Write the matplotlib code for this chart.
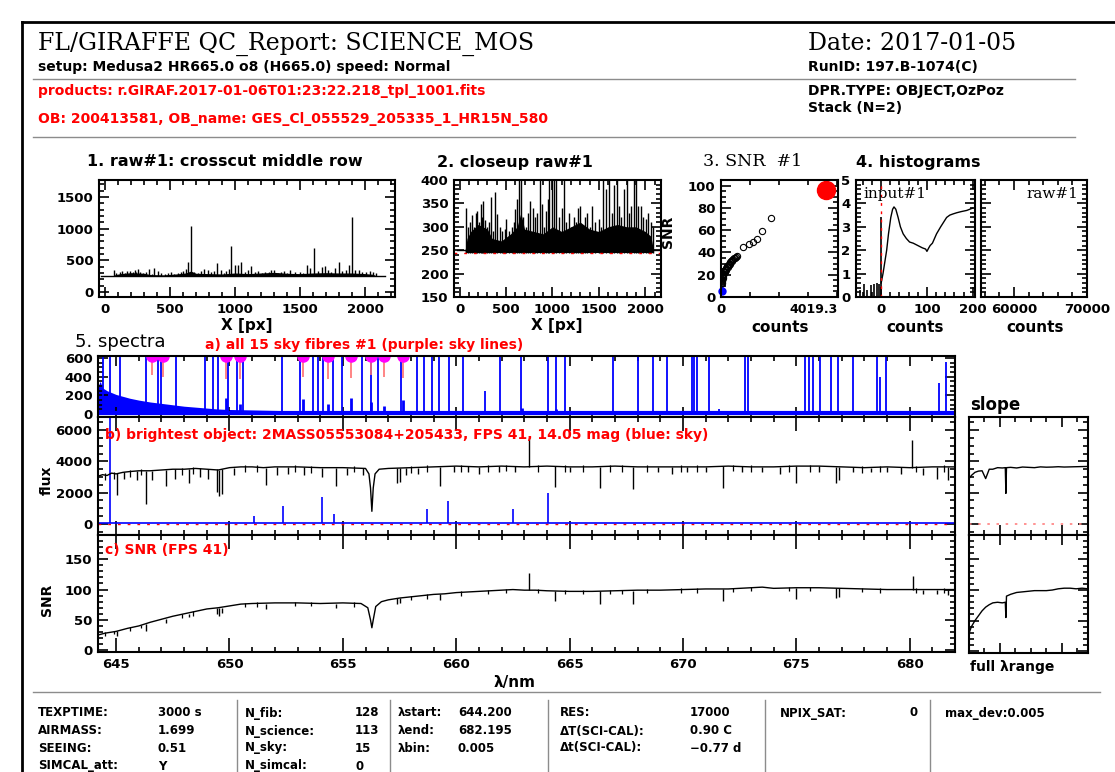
import matplotlib
matplotlib.use("Agg")
import matplotlib.pyplot as plt
from matplotlib.lines import Line2D
from matplotlib.ticker import MultipleLocator, FixedLocator, NullFormatter

W, H = 1115, 772

# ---- raw crosscut (panels 1 and 2) ----
raw_base_x = [-30, 2150]
raw_base_y = [250, 250]
raw_env_x = [60, 80, 120, 200, 300, 350, 450, 550, 620, 660, 700, 800, 900, 1000,
             1100, 1200, 1300, 1400, 1500, 1600, 1700, 1800, 1900, 2000, 2060, 2090]
raw_env_y = [250, 275, 290, 305, 295, 275, 270, 285, 300, 330, 295, 290, 285, 300,
             290, 300, 310, 295, 290, 300, 305, 300, 300, 290, 280, 250]
raw_peak_x = [70, 88, 112, 132, 152, 172, 192, 212, 228, 242, 256, 272, 292, 318, 341,
              365, 380, 405, 432, 460, 488, 505, 532, 560, 585, 602, 622, 640, 659, 685,
              712, 740, 763, 790, 812, 838, 864, 889, 912, 932, 952, 967, 1000, 1020,
              1044, 1075, 1100, 1122, 1150, 1180, 1205, 1229, 1258, 1280, 1301, 1330,
              1352, 1373, 1400, 1426, 1460, 1498, 1522, 1550, 1575, 1610, 1640, 1665,
              1692, 1715, 1740, 1770, 1802, 1825, 1850, 1875, 1897, 1925, 1953, 1980,
              2005, 2035, 2060, 2085]
raw_peak_y = [340, 300, 310, 325, 300, 330, 334, 310, 348, 320, 355, 315, 300, 310, 363,
              290, 375, 327, 300, 290, 295, 316, 290, 300, 310, 338, 360, 480, 1040, 320,
              300, 330, 356, 340, 320, 330, 450, 348, 300, 334, 360, 730, 430, 420,
              480, 320, 340, 410, 310, 330, 300, 320, 310, 340, 345, 300,
              320, 330, 300, 345, 310, 316, 300, 420, 380, 700, 330, 390,
              410, 345, 320, 380, 470, 330, 345, 420, 1180, 345, 345, 320,
              316, 330, 310, 300]
raw_level = 245

# ---- SNR #1 (panel 3) ----
snr_counts = [15, 20, 25, 30, 35, 40, 45, 55, 65, 75, 85, 95, 110, 125, 140, 155, 170,
              185, 200, 220, 240, 260, 280, 300, 320, 345, 370, 395, 420, 450, 480, 510,
              540, 767, 973, 1111, 1225, 1397, 1718]
snr_values = [12, 14, 16, 13, 18, 15, 19, 17, 20, 21, 19, 22, 23, 22, 24, 25, 26,
              24, 27, 28, 27, 29, 30, 31, 30, 32, 33, 32, 34, 35, 35, 36,
              37, 45, 48, 49, 52, 59, 71]
snr_sky = [(24, 5)]
snr_bright = [(3607, 96)]

# ---- histograms (panel 4) ----
hist_x = [0, 4, 8, 12, 16, 21, 25, 28, 32, 37, 42, 48, 55, 62, 70, 80, 90, 97, 100,
          104, 107, 112, 121, 130, 143, 150, 157, 165, 175, 187, 200]
hist_y = [0.6, 1.0, 1.5, 2.0, 2.7, 3.4, 3.75, 3.85, 3.75, 3.4, 3.0, 2.7, 2.5, 2.35, 2.3,
          2.2, 2.1, 2.05, 1.95, 2.1, 2.2, 2.3, 2.7, 3.0, 3.4, 3.5, 3.55, 3.6, 3.65, 3.7, 3.8]
hist_bar_x = [-47, -38, -30, -22, -15, -10, -5, 0]
hist_bar_y = [0.3, 0.55, 0.3, 0.5, 0.55, 0.6, 0.55, 3.4]

# ---- 5a: sky fibres ----
sky_env_lam = [644.2, 644.3, 644.4, 644.6, 644.8, 645.0, 645.3, 645.6, 646.0, 646.5,
               647.0, 647.5, 648.0, 648.5, 649.0, 649.5, 650.0, 651.0, 652.0, 653.0,
               654.0, 655.0, 656.0, 658.0, 660.0, 662.0, 665.0, 670.0, 675.0, 680.0, 682.0]
sky_env_val = [300, 350, 280, 250, 230, 210, 190, 170, 150, 130,
               115, 100, 85, 75, 65, 55, 50, 45, 40, 35,
               32, 30, 28, 25, 25, 22, 20, 20, 18, 18, 18]
sky_spike_lam = [644.42, 644.74, 645.18, 646.31, 646.86, 646.97, 647.65, 648.91, 649.27,
                 649.48, 649.94, 650.33, 650.61, 652.30, 653.09, 653.69, 653.92, 654.11,
                 654.58, 654.98, 655.84, 656.24, 656.55, 657.58, 658.29, 658.57, 658.91,
                 659.26, 659.70, 660.30, 661.28, 661.91, 662.85, 664.03, 664.40, 664.81,
                 666.91, 668.01, 668.69, 669.30, 670.39, 670.50, 670.63, 671.14, 671.60,
                 672.73, 672.89, 675.40, 675.56, 675.72, 676.04, 676.53, 676.86, 677.50,
                 678.56, 678.71, 678.96, 681.30, 681.59]
sky_spike_val = [700, 700, 700, 700, 700, 700, 700, 700, 700,
                 700, 700, 700, 700, 700, 700, 700, 700, 700,
                 700, 700, 700, 700, 700, 700, 700, 700, 700,
                 700, 700, 700, 250, 700, 700, 700, 700, 700,
                 700, 700, 700, 700, 700, 700, 700, 700, 60,
                 700, 700, 700, 700, 700, 700, 700, 700, 700,
                 700, 400, 700, 330, 560]
sky_bump_lam = [649.84, 650.46, 653.26, 654.35, 655.34, 656.24, 656.83, 657.67, 662.9, 664.4]
sky_bump_val = [170, 110, 160, 110, 170, 130, 90, 150, 70, 50]
skyline_lam = [646.60, 647.07, 649.84, 650.46, 653.26, 654.35, 655.34, 656.24, 656.83, 657.67]
skyline_low = [420, 400, 380, 380, 400, 380, 390, 420, 400, 390]

# ---- 5b: brightest object ----
obj_lam = [644.2, 644.4, 644.6, 644.8, 645.0, 645.3, 645.6, 646.0, 646.5, 647.0, 647.5,
           648.0, 648.5, 649.0, 649.5, 650.0, 650.5, 651.0, 651.5, 652.0, 653.0, 654.0,
           655.0, 656.0, 656.15, 656.22, 656.28, 656.34, 656.42, 656.6, 657.0, 658.0,
           659.0, 660.0, 661.0, 662.0, 663.0, 664.0, 665.0, 666.0, 667.0, 668.0, 669.0,
           670.0, 671.0, 672.0, 673.0, 674.0, 675.0, 676.0, 677.0, 678.0, 679.0, 680.0,
           681.0, 682.0]
obj_flux = [3050, 3150, 3100, 3250, 3200, 3300, 3350, 3400, 3400, 3450, 3500,
            3500, 3550, 3500, 3450, 3600, 3650, 3650, 3600, 3650, 3650, 3600,
            3600, 3550, 3200, 2300, 800, 2300, 3200, 3500, 3550, 3600,
            3650, 3700, 3650, 3700, 3650, 3700, 3650, 3650, 3700, 3650, 3650,
            3650, 3650, 3700, 3650, 3650, 3700, 3700, 3650, 3600, 3650, 3600,
            3650, 3650]
dip_lam = [645.05, 645.35, 645.9, 646.31, 646.6, 647.2, 647.6, 648.2, 648.7, 649.05,
           649.44, 649.55, 649.68, 650.2, 651.6, 652.1, 652.6, 653.3, 654.1, 654.7,
           655.2, 655.9, 657.4, 657.5, 657.8, 658.3, 659.3, 659.9, 660.5, 661.0,
           661.9, 662.6, 664.35, 665.0, 666.34, 667.8, 668.9, 669.5, 670.2, 671.0,
           671.76, 672.6, 673.5, 674.3, 675.0, 676.0, 676.77, 676.9, 677.5, 678.3,
           679.0, 679.6, 680.6, 681.2, 681.7]
dip_top = [3250, 3300, 3400, 3400, 3400, 3450, 3500, 3500, 3550, 3500,
           3500, 3450, 3500, 3600, 3600, 3650, 3650, 3650, 3600, 3600,
           3600, 3550, 3550, 3550, 3600, 3600, 3650, 3700, 3700, 3650,
           3700, 3700, 3700, 3650, 3650, 3650, 3650, 3650, 3650, 3650,
           3700, 3700, 3650, 3650, 3700, 3700, 3650, 3650, 3650, 3600,
           3650, 3650, 3600, 3650, 3650]
dip_low = [1840, 2900, 2800, 1300, 2800, 2400, 2900, 2630, 3000, 2900,
           2060, 1750, 1900, 3100, 2500, 3100, 3200, 3100, 3000, 2400,
           3100, 3100, 2600, 2700, 3100, 3200, 2400, 3300, 3300, 3200,
           3300, 3300, 2390, 3300, 2300, 2200, 3300, 3200, 3300, 3300,
           2300, 3300, 3300, 3200, 2600, 3300, 2600, 2800, 3300, 3300,
           3300, 3200, 3100, 2900, 2800]
weak_lam = [644.5, 644.9, 645.6, 646.1, 647.9, 648.4, 650.7, 651.2, 652.9, 653.6, 655.5,
            658.0, 658.7, 660.2, 661.4, 662.2, 663.6, 664.8, 665.6, 666.8, 667.3, 668.4,
            669.9, 670.6, 672.2, 673.0, 674.7, 675.6, 677.9, 678.7, 680.3, 681.5]
weak_top = [3250, 3300, 3450, 3500, 3600, 3650, 3750, 3750, 3750, 3700, 3700,
            3700, 3750, 3800, 3750, 3800, 3750, 3800, 3750, 3750, 3800, 3750,
            3750, 3750, 3800, 3750, 3750, 3800, 3700, 3700, 3700, 3750]
weak_low = [2800, 2900, 3000, 3100, 3150, 3200, 3300, 3350, 3300, 3250, 3300,
            3250, 3350, 3350, 3300, 3400, 3300, 3350, 3350, 3300, 3350, 3300,
            3350, 3350, 3400, 3300, 3350, 3350, 3250, 3300, 3300, 3350]
em_lam = [663.2, 680.1]
em_base = [3650, 3600]
em_peak = [5500, 5400]
skyb_lam = [644.74, 651.07, 652.34, 654.06, 654.63, 658.71, 659.62, 662.49, 664.03]
skyb_peak = [7000, 480, 1140, 1740, 640, 920, 1470, 950, 1960]
skyb_level = 40

# ---- 5c: SNR ----
snr_lam = [644.2, 644.5, 645.0, 645.5, 646.0, 646.5, 647.0, 647.5, 648.0, 648.5, 649.0,
           649.5, 650.0, 650.5, 651.0, 652.0, 653.0, 654.0, 655.0, 655.8, 656.1, 656.22,
           656.28, 656.34, 656.45, 656.7, 657.0, 657.5, 658.0, 658.5, 659.0, 659.5,
           660.0, 660.5, 661.0, 661.5, 662.0, 662.5, 663.0, 663.5, 664.0, 665.0, 666.0,
           667.0, 668.0, 669.0, 670.0, 671.0, 672.0, 673.0, 673.5, 674.0, 675.0, 676.0,
           677.0, 678.0, 679.0, 680.0, 681.0, 682.0]
snr_spec = [25, 28, 31, 36, 40, 46, 51, 56, 60, 64, 68,
            70, 73, 76, 77, 78, 78, 77, 78, 77, 70, 50,
            37, 50, 72, 80, 83, 86, 88, 90, 92, 93,
            95, 96, 97, 98, 99, 100, 99, 99, 98, 97, 97,
            98, 99, 99, 100, 101, 101, 103, 104, 102, 103, 103,
            102, 101, 100, 100, 100, 100]
snr_dip_lam = [645.05, 646.31, 647.2, 648.2, 649.44, 649.55, 649.68, 651.6, 654.7, 657.4,
               657.5, 659.3, 664.35, 666.34, 667.8, 671.76, 675.0, 676.77, 676.9, 680.6,
               681.2, 681.7]
snr_dip_top = [31, 43, 51, 60, 70, 70, 70, 77, 77, 86, 86, 92, 98, 97, 98, 101, 103, 102,
               102, 100, 100, 100]
snr_dip_low = [24, 32, 45, 54, 60, 57, 61, 68, 69, 76, 78, 82, 81, 76, 76, 81, 85, 86,
               88, 93, 92, 91]
snr_weak_top = [30, 32, 38, 42, 60, 64, 78, 79, 80, 80, 79, 90, 92, 97, 99, 101,
                101, 99, 99, 100, 100, 101, 102, 102, 103, 105, 104, 105, 103, 102, 102, 102]
snr_weak_low = [24, 26, 32, 36, 53, 57, 71, 72, 73, 73, 72, 83, 85, 90, 92, 94,
                94, 92, 92, 93, 93, 94, 95, 95, 96, 98, 97, 98, 96, 95, 95, 95]
snr_em_lam = [663.2, 680.14]
snr_em_base = [99, 100]
snr_em_peak = [128, 122]

# ---- slope panels ----
slope_x = [0.0, 0.02, 0.05, 0.08, 0.11, 0.14, 0.17, 0.2, 0.24, 0.28, 0.305, 0.31, 0.315,
           0.35, 0.4, 0.45, 0.5, 0.55, 0.6, 0.65, 0.7, 0.75, 0.8, 0.85, 0.9, 0.95, 1.0]
slope_flux = [2900, 3100, 3300, 3380, 3400, 2900, 3500, 3500, 3600, 3580, 3600, 1950, 3600,
              3620, 3580, 3640, 3620, 3600, 3650, 3630, 3640, 3660, 3640, 3650, 3660, 3670, 3680]
slope_snr = [29, 40, 50, 58, 66, 72, 76, 79, 80, 79, 80, 55, 90,
             93, 96, 97, 98, 99, 99, 99, 100, 102, 103, 103, 102, 103, 102]

# ---- footer table ----
table_cols = [
    (38, 158, ["TEXPTIME:", "AIRMASS:", "SEEING:", "SIMCAL_att:"], ["3000 s", "1.699", "0.51", "Y"]),
    (245, 355, ["N_fib:", "N_science:", "N_sky:", "N_simcal:"], ["128", "113", "15", "0"]),
    (398, 458, ["λstart:", "λend:", "λbin:"], ["644.200", "682.195", "0.005"]),
    (560, 690, ["RES:", "ΔT(SCI-CAL):", "Δt(SCI-CAL):"], ["17000", "0.90 C", "−0.77 d"]),
    (780, 910, ["NPIX_SAT:"], ["0"]),
    (945, 945, ["max_dev:0.005"], [""]),
]
table_rows_y = [713, 731, 748, 766]
table_seps = [237, 390, 548, 765, 930]

plt.rcParams['font.family'] = ['DejaVu Sans']
plt.rcParams['font.weight'] = 'bold'
plt.rcParams['font.size'] = 9.5

fig = plt.figure(figsize=(W / 100, H / 100), dpi=100)
fig.patch.set_facecolor('white')


def px_axes(x0, y0, x1, y1):
    return fig.add_axes([x0 / W, 1 - y1 / H, (x1 - x0) / W, (y1 - y0) / H])


def txt(x, y, s, **kw):
    kw.setdefault('va', 'center')
    return fig.text(x / W, 1 - y / H, s, **kw)


def hline(y, x0, x1, color='0.55', lw=1.0):
    fig.add_artist(Line2D([x0 / W, x1 / W], [1 - y / H] * 2, color=color, lw=lw))


def vline(x, y0, y1, color='0.55', lw=1.0):
    fig.add_artist(Line2D([x / W] * 2, [1 - y0 / H, 1 - y1 / H], color=color, lw=lw))


def idl(ax, xmaj, xmin, ymaj, ymin):
    for sp in ax.spines.values():
        sp.set_linewidth(1.5)
    ax.xaxis.set_major_locator(xmaj)
    ax.xaxis.set_minor_locator(xmin)
    ax.yaxis.set_major_locator(ymaj)
    ax.yaxis.set_minor_locator(ymin)
    ax.tick_params(which='both', direction='in', top=True, right=True, width=1.2,
                   labelsize=9.5, pad=4)
    ax.tick_params(which='major', length=7)
    ax.tick_params(which='minor', length=3.5)


# frame and header
hline(22, 22, 1115, color='black', lw=2)
vline(22, 22, 772, color='black', lw=2)
hline(79, 33, 1075)
hline(137, 33, 1075)
hline(692, 33, 1100)
for xs in table_seps:
    vline(xs, 700, 772)

txt(38, 44, "FL/GIRAFFE QC_Report: SCIENCE_MOS", family='DejaVu Serif', weight='normal', size=17)
txt(38, 67, "setup: Medusa2 HR665.0 o8 (H665.0) speed: Normal", size=10)
txt(38, 91, "products: r.GIRAF.2017-01-06T01:23:22.218_tpl_1001.fits", size=10, color='red')
txt(38, 119, "OB: 200413581, OB_name: GES_Cl_055529_205335_1_HR15N_580", size=10, color='red')
txt(808, 44, "Date: 2017-01-05", family='DejaVu Serif', weight='normal', size=17)
txt(808, 67, "RunID: 197.B-1074(C)", size=10)
txt(808, 91, "DPR.TYPE: OBJECT,OzPoz", size=10)
txt(808, 108, "Stack (N=2)", size=10)

# panel 1
ax1 = px_axes(99, 180, 395, 297)
ax1.plot(raw_base_x, raw_base_y, color='black', lw=1)
ax1.fill_between(raw_env_x, raw_level, raw_env_y, color='black', lw=0)
ax1.vlines(raw_peak_x, raw_level, raw_peak_y, color='black', lw=1)
ax1.set_xlim(-46, 2230)
ax1.set_ylim(-80, 1770)
idl(ax1, MultipleLocator(500), MultipleLocator(100), MultipleLocator(500), MultipleLocator(100))
txt(225, 162, "1. raw#1: crosscut middle row", ha='center', size=11.5)
txt(247, 326, "X [px]", ha='center', size=11)

# panel 2
ax2 = px_axes(454, 180, 661, 297)
ax2.plot(raw_base_x, raw_base_y, color='black', lw=1)
ax2.fill_between(raw_env_x, raw_level, raw_env_y, color='black', lw=0)
ax2.vlines(raw_peak_x, raw_level, raw_peak_y, color='black', lw=1)
ax2.axhline(raw_level, color='red', lw=1, ls=(0, (2, 5)))
ax2.set_xlim(-60, 2170)
ax2.set_ylim(150, 400)
idl(ax2, MultipleLocator(500), MultipleLocator(100), MultipleLocator(50), MultipleLocator(10))
txt(515, 162, "2. closeup raw#1", ha='center', size=11.5)
txt(557, 326, "X [px]", ha='center', size=11)

# panel 3
ax3 = px_axes(721, 180, 838, 297)
ax3.plot(snr_counts, snr_values, 'o', mfc='none', mec='black', ms=4.5, mew=0.8)
ax3.plot([p[0] for p in snr_sky], [p[1] for p in snr_sky], 'o', color='blue', ms=5, clip_on=False)
ax3.plot([p[0] for p in snr_bright], [p[1] for p in snr_bright], 'o', color='red', ms=13)
ax3.set_xlim(0, 4019.3)
ax3.set_ylim(0, 105)
idl(ax3, FixedLocator([0, 4019.3]), MultipleLocator(1000), MultipleLocator(20), MultipleLocator(5))
ax3.set_xticklabels(["0", "4019.3"])
ax3.get_xticklabels()[1].set_horizontalalignment('right')
ax3.get_xticklabels()[1].set_fontsize(9)
txt(703, 162, "3. SNR  #1", ha='left', family='DejaVu Serif', weight='normal', size=12.5)
txt(668, 232, "SNR", ha='center', rotation=90, size=10)
txt(780, 328, "counts", ha='center', size=11)

# panel 4a
ax4 = px_axes(856, 180, 975, 297)
ax4.vlines(hist_bar_x, 0, hist_bar_y, color='black', lw=1.2)
ax4.plot(hist_x, hist_y, color='black', lw=1)
ax4.axvline(0, color='red', lw=1, ls=(0, (2, 4)))
ax4.set_xlim(-55, 205)
ax4.set_ylim(0, 5)
idl(ax4, MultipleLocator(100), MultipleLocator(20), MultipleLocator(1), MultipleLocator(0.2))
ax4.text(0.06, 0.88, "input#1", transform=ax4.transAxes, family='DejaVu Serif',
         weight='normal', size=11, va='center')
txt(856, 162, "4. histograms", ha='left', size=11.5)
txt(915, 328, "counts", ha='center', size=11)

# panel 4b
ax5 = px_axes(981, 180, 1087, 297)
ax5.set_xlim(55500, 70000)
ax5.set_ylim(0, 5)
idl(ax5, FixedLocator([60000, 70000]), MultipleLocator(2000), MultipleLocator(1), MultipleLocator(0.2))
ax5.set_xticklabels(["60000", "70000"])
ax5.yaxis.set_major_formatter(NullFormatter())
ax5.text(0.92, 0.88, "raw#1", transform=ax5.transAxes, family='DejaVu Serif',
         weight='normal', size=11, va='center', ha='right')
txt(1035, 328, "counts", ha='center', size=11)

# spectra 5a
LX0, LX1 = 98, 955
axa = px_axes(LX0, 356, LX1, 417)
axa.fill_between(sky_env_lam, 0, sky_env_val, color='blue', lw=0)
axa.vlines(sky_spike_lam, 0, sky_spike_val, color='blue', lw=1.3)
axa.vlines(sky_bump_lam, 0, sky_bump_val, color='blue', lw=2)
axa.plot([644.2, 682.2], [12, 12], color='blue', lw=3)
axa.vlines(skyline_lam, skyline_low, 600, color='#ff7070', lw=1.2)
axa.plot(skyline_lam, [615] * len(skyline_lam), 'o', color='magenta', ms=8)
axa.set_xlim(644.2, 682.0)
axa.set_ylim(-30, 620)
idl(axa, MultipleLocator(5), MultipleLocator(1), MultipleLocator(200), MultipleLocator(50))
axa.xaxis.set_major_formatter(NullFormatter())
txt(75, 342, "5. spectra", ha='left', size=13, weight='normal')
txt(205, 345, "a) all 15 sky fibres #1 (purple: sky lines)", ha='left', size=10, color='red')

# spectra 5b
axb = px_axes(LX0, 417, LX1, 535)
axb.plot([644.2, 682.2], [0, 0], color='red', lw=1, ls=(0, (2, 5)))
axb.plot([644.2, 682.2], [skyb_level] * 2, color='blue', lw=1.2)
axb.vlines(skyb_lam, skyb_level, skyb_peak, color='blue', lw=1.2)
axb.plot(obj_lam, obj_flux, color='black', lw=1)
axb.vlines(dip_lam, dip_low, dip_top, color='black', lw=1)
axb.vlines(weak_lam, weak_low, weak_top, color='black', lw=0.9)
axb.vlines(em_lam, em_base, em_peak, color='black', lw=1)
axb.set_xlim(644.2, 682.0)
axb.set_ylim(-720, 6850)
idl(axb, MultipleLocator(5), MultipleLocator(1), MultipleLocator(2000), MultipleLocator(500))
axb.xaxis.set_major_formatter(NullFormatter())
axb.tick_params(axis='x', which='major', length=10)
axb.text(0.008, 0.85, "b) brightest object: 2MASS05553084+205433, FPS 41, 14.05 mag (blue: sky)",
         transform=axb.transAxes, color='red', size=10, va='center')
txt(47, 480, "flux", ha='center', rotation=90, size=10)

# spectra 5c
axc = px_axes(LX0, 535, LX1, 652)
axc.plot(snr_lam, snr_spec, color='black', lw=1)
axc.vlines(snr_dip_lam, snr_dip_low, snr_dip_top, color='black', lw=1)
axc.vlines(weak_lam, snr_weak_low, snr_weak_top, color='black', lw=0.9)
axc.vlines(snr_em_lam, snr_em_base, snr_em_peak, color='black', lw=1)
axc.set_xlim(644.2, 682.0)
axc.set_ylim(-3, 190)
idl(axc, MultipleLocator(5), MultipleLocator(1), MultipleLocator(50), MultipleLocator(10))
axc.tick_params(axis='x', which='major', length=10)
axc.text(0.008, 0.87, "c) SNR (FPS 41)", transform=axc.transAxes, color='red', size=10, va='center')
txt(47, 600, "SNR", ha='center', rotation=90, size=10)
txt(515, 683, "λ/nm", ha='center', size=11)

# slope panels
axs1 = px_axes(969, 417, 1088, 535)
axs1.plot([0, 1], [0, 0], color='#ff8080', lw=1.2, ls=(0, (1.5, 4)))
axs1.plot(slope_x, slope_flux, color='black', lw=1)
axs1.set_xlim(0, 1)
axs1.set_ylim(-720, 6850)
idl(axs1, FixedLocator([0.26, 0.78]), MultipleLocator(0.13), MultipleLocator(2000), MultipleLocator(500))
axs1.xaxis.set_major_formatter(NullFormatter())
axs1.yaxis.set_major_formatter(NullFormatter())
txt(970, 405, "slope", ha='left', size=12)

axs2 = px_axes(969, 535, 1088, 653)
axs2.plot(slope_x, slope_snr, color='black', lw=1)
axs2.set_xlim(0, 1)
axs2.set_ylim(-3, 190)
idl(axs2, FixedLocator([0.26, 0.78]), MultipleLocator(0.13), MultipleLocator(50), MultipleLocator(10))
axs2.xaxis.set_major_formatter(NullFormatter())
axs2.yaxis.set_major_formatter(NullFormatter())
txt(970, 667, "full λrange", ha='left', size=10)

# footer table
for lx, vx, labels, values in table_cols:
    for i, lab in enumerate(labels):
        txt(lx, table_rows_y[i], lab, ha='left', size=8.5)
        if values[i]:
            txt(vx, table_rows_y[i], values[i], ha='left', size=8.5)

fig.savefig("out.png", dpi=100, facecolor='white')
